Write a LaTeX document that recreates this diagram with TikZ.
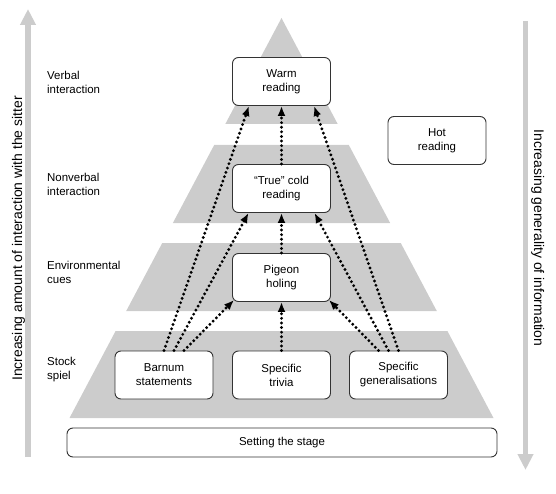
\documentclass[tikz,border=0pt]{standalone}
\usepackage{fontspec}
\setmainfont{Liberation Sans}
\usetikzlibrary{arrows.meta,calc}

\begin{document}
\begin{tikzpicture}[x=1bp, y=-1bp,
    tier/.style={fill=black!20},
    reading/.style={draw=black!80, line width=0.9bp, fill=white, rounded corners=6bp,
        minimum width=98bp, minimum height=48bp, inner sep=0pt, align=center,
        font=\fontsize{11.5}{14}\selectfont},
    side/.style={anchor=west, align=left, inner sep=0pt, font=\fontsize{11.5}{14}\selectfont},
    hint/.style={inner sep=0pt, font=\fontsize{14}{16}\selectfont},
    axis/.style={draw=black!20, line width=5.5bp, -{Triangle[width=15bp,length=16bp]}},
    link/.style={line width=3.2bp, dash pattern=on 0pt off 4.6bp, line cap=round,
        -{Latex[length=10bp,width=8bp]}}]

    \useasboundingbox (0,0) rectangle (556,494);

    % constants
    \def\cx{281.5}
    \def\apex{18}
    \def\slope{0.53}

    % pyramid
    \foreach \t/\b in {18/124, 145/223, 243/311, 331/418}
        \fill [tier] ({\cx-\slope*(\t-\apex)},\t) -- ({\cx+\slope*(\t-\apex)},\t)
            -- ({\cx+\slope*(\b-\apex)},\b) -- ({\cx-\slope*(\b-\apex)},\b) -- cycle;

    % levels
    \node [side] (verbal) at (47,82) {Verbal\\interaction};
    \node [side] (nonverbal) at (47,184.5) {Nonverbal\\interaction};
    \node [side] (cues) at (47,272) {Environmental\\cues};
    \node [side] (spiel) at (47,370) {Stock\\spiel};

    % readings
    \node [reading] (warm) at (\cx,81.5) {Warm\\reading};
    \node [reading] (hot) at (437,140.5) {Hot\\reading};
    \node [reading] (cold) at (\cx,188.5) {“True” cold\\reading};
    \node [reading] (pigeon) at (\cx,277.5) {Pigeon\\holing};
    \node [reading] (barnum) at (164,375) {Barnum\\statements};
    \node [reading] (trivia) at (\cx,375) {Specific\\trivia};
    \node [reading] (general) at (398.5,375) {Specific\\generalisations};
    \node [reading, minimum width=430bp, minimum height=29bp] (setting) at (282,442.5) {Setting the stage};

    % axes
    \coordinate (upfoot) at (28,457);
    \coordinate (uptip) at (28,9);
    \coordinate (downtop) at (525.5,21);
    \coordinate (downtip) at (525.5,470);
    \draw [axis] (upfoot) -- (uptip);
    \draw [axis] (downtop) -- (downtip);
    \node [hint, rotate=90, anchor=base] (sitter) at (22,238.5) {Increasing amount of interaction with the sitter};
    \node [hint, rotate=-90, anchor=base] (generality) at (534,238) {Increasing generality of information};

    % links
    \draw [link] (barnum.north) -- ($(warm.south)+(-32.5,0)$);
    \draw [link] ($(barnum.north)+(10,0)$) -- ($(cold.south)+(-33,0)$);
    \draw [link] ($(barnum.north)+(20,0)$) -- ($(pigeon.south west)+(2,-2)$);
    \draw [link] (trivia.north) -- (pigeon.south);
    \draw [link] (pigeon.north) -- (cold.south);
    \draw [link] (cold.north) -- (warm.south);
    \draw [link] ($(general.north)+(-20,0)$) -- ($(pigeon.south east)+(-2,-2)$);
    \draw [link] ($(general.north)+(-10,0)$) -- ($(cold.south)+(33,0)$);
    \draw [link] (general.north) -- ($(warm.south)+(32.5,0)$);

\end{tikzpicture}
\end{document}
